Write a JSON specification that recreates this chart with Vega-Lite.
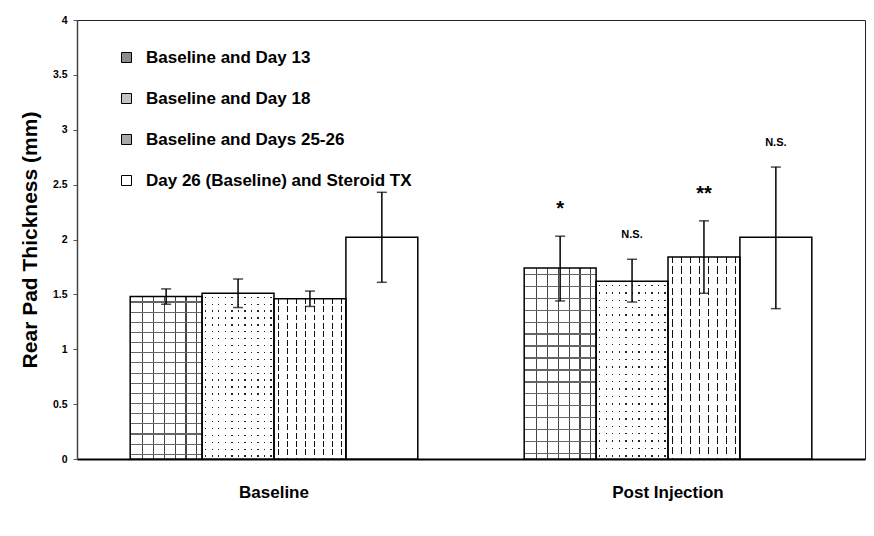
{
  "$schema": "https://vega.github.io/schema/vega-lite/v6.json",
  "width": 788,
  "height": 439,
  "autosize": {"type": "none"},
  "padding": {"left": 77, "top": 20, "right": 9, "bottom": 77},
  "background": "white",
  "config": {
    "font": "Liberation Sans",
    "view": {"stroke": "#222", "strokeWidth": 1},
    "axis": {"labelFont": "Liberation Sans", "titleFont": "Liberation Sans", "labelColor": "black", "titleColor": "black", "grid": false}
  },
  "data": {
    "values": [
      {"group": "Baseline", "series": "Baseline and Day 13", "mean": 1.48, "low": 1.41, "high": 1.55, "sig": null},
      {"group": "Baseline", "series": "Baseline and Day 18", "mean": 1.51, "low": 1.38, "high": 1.64, "sig": null},
      {"group": "Baseline", "series": "Baseline and Days 25-26", "mean": 1.46, "low": 1.39, "high": 1.53, "sig": null},
      {"group": "Baseline", "series": "Day 26 (Baseline) and Steroid TX", "mean": 2.02, "low": 1.61, "high": 2.43, "sig": null},
      {"group": "Post Injection", "series": "Baseline and Day 13", "mean": 1.74, "low": 1.44, "high": 2.03, "sig": "*"},
      {"group": "Post Injection", "series": "Baseline and Day 18", "mean": 1.62, "low": 1.43, "high": 1.82, "sig": "N.S."},
      {"group": "Post Injection", "series": "Baseline and Days 25-26", "mean": 1.84, "low": 1.51, "high": 2.17, "sig": "**"},
      {"group": "Post Injection", "series": "Day 26 (Baseline) and Steroid TX", "mean": 2.02, "low": 1.37, "high": 2.66, "sig": "N.S."}
    ]
  },
  "encoding": {
    "x": {
      "field": "group", "type": "nominal", "sort": ["Baseline", "Post Injection"],
      "scale": {"paddingInner": 0.27, "paddingOuter": 0.135},
      "axis": {"title": null, "labelAngle": 0, "labelFontSize": 17, "labelFontWeight": "bold", "labelPadding": 25, "ticks": false, "domainColor": "black", "domainWidth": 2}
    },
    "xOffset": {
      "field": "series", "type": "nominal",
      "scale": {"domain": ["Baseline and Day 13", "Baseline and Day 18", "Baseline and Days 25-26", "Day 26 (Baseline) and Steroid TX"], "paddingInner": 0, "paddingOuter": 0}
    }
  },
  "layer": [
    {
      "mark": {"type": "bar", "stroke": null},
      "encoding": {
        "y": {
          "field": "mean", "type": "quantitative",
          "scale": {"domain": [0, 4], "nice": false},
          "axis": {"title": "Rear Pad Thickness (mm)", "titleFontSize": 21, "titleFontWeight": "bold", "titlePadding": 12, "values": [0, 0.5, 1, 1.5, 2, 2.5, 3, 3.5, 4], "format": "~g", "labelFontSize": 10.5, "labelFontWeight": "bold", "labelPadding": 6, "tickSize": 4, "tickColor": "#555", "domainColor": "#444", "domainWidth": 1.5}
        },
        "fill": {
          "field": "series", "type": "nominal",
          "scale": {"domain": ["Baseline and Day 13", "Baseline and Day 18", "Baseline and Days 25-26", "Day 26 (Baseline) and Steroid TX"], "range": ["#8c8c8c", "#c4c4c4", "#a8a8a8", "#ffffff"]},
          "legend": {"title": null, "orient": "none", "legendX": 41, "legendY": 29, "symbolType": "square", "symbolSize": 100, "symbolStrokeColor": "black", "symbolStrokeWidth": 1, "labelFontSize": 17, "labelFontWeight": "bold", "labelColor": "black", "labelFont": "Liberation Sans", "labelOffset": 11, "rowPadding": 23, "labelLimit": 500}
        }
      }
    },
    {
      "transform": [{"filter": "datum.series == 'Baseline and Day 13'"}],
      "mark": {"type": "bar", "fill": {"gradient": "linear", "x1": 0, "y1": 0, "x2": 1, "y2": 0, "stops": [
        {"offset": 0, "color": "white"},
        {"offset": 0.167, "color": "white"}, {"offset": 0.167, "color": "#444"}, {"offset": 0.185, "color": "#444"}, {"offset": 0.185, "color": "white"},
        {"offset": 0.317, "color": "white"}, {"offset": 0.317, "color": "#444"}, {"offset": 0.335, "color": "#444"}, {"offset": 0.335, "color": "white"},
        {"offset": 0.467, "color": "white"}, {"offset": 0.467, "color": "#444"}, {"offset": 0.485, "color": "#444"}, {"offset": 0.485, "color": "white"},
        {"offset": 0.617, "color": "white"}, {"offset": 0.617, "color": "#444"}, {"offset": 0.635, "color": "#444"}, {"offset": 0.635, "color": "white"},
        {"offset": 0.767, "color": "white"}, {"offset": 0.767, "color": "#444"}, {"offset": 0.785, "color": "#444"}, {"offset": 0.785, "color": "white"},
        {"offset": 0.917, "color": "white"}, {"offset": 0.917, "color": "#444"}, {"offset": 0.935, "color": "#444"}, {"offset": 0.935, "color": "white"},
        {"offset": 1, "color": "white"}
      ]}},
      "encoding": {"y": {"field": "mean", "type": "quantitative"}}
    },
    {
      "transform": [{"filter": "datum.series == 'Baseline and Day 13'"}],
      "mark": {"type": "bar", "fill": {"gradient": "linear", "x1": 0, "y1": 0, "x2": 0, "y2": 1, "stops": [
        {"offset": 0, "color": "rgba(255,255,255,0)"},
        {"offset": 0.03, "color": "rgba(255,255,255,0)"}, {"offset": 0.03, "color": "#666"}, {"offset": 0.037, "color": "#666"}, {"offset": 0.037, "color": "rgba(255,255,255,0)"},
        {"offset": 0.0925, "color": "rgba(255,255,255,0)"}, {"offset": 0.0925, "color": "#666"}, {"offset": 0.0995, "color": "#666"}, {"offset": 0.0995, "color": "rgba(255,255,255,0)"},
        {"offset": 0.155, "color": "rgba(255,255,255,0)"}, {"offset": 0.155, "color": "#666"}, {"offset": 0.162, "color": "#666"}, {"offset": 0.162, "color": "rgba(255,255,255,0)"},
        {"offset": 0.2175, "color": "rgba(255,255,255,0)"}, {"offset": 0.2175, "color": "#666"}, {"offset": 0.2245, "color": "#666"}, {"offset": 0.2245, "color": "rgba(255,255,255,0)"},
        {"offset": 0.28, "color": "rgba(255,255,255,0)"}, {"offset": 0.28, "color": "#666"}, {"offset": 0.287, "color": "#666"}, {"offset": 0.287, "color": "rgba(255,255,255,0)"},
        {"offset": 0.3425, "color": "rgba(255,255,255,0)"}, {"offset": 0.3425, "color": "#666"}, {"offset": 0.3495, "color": "#666"}, {"offset": 0.3495, "color": "rgba(255,255,255,0)"},
        {"offset": 0.405, "color": "rgba(255,255,255,0)"}, {"offset": 0.405, "color": "#666"}, {"offset": 0.412, "color": "#666"}, {"offset": 0.412, "color": "rgba(255,255,255,0)"},
        {"offset": 0.4675, "color": "rgba(255,255,255,0)"}, {"offset": 0.4675, "color": "#666"}, {"offset": 0.4745, "color": "#666"}, {"offset": 0.4745, "color": "rgba(255,255,255,0)"},
        {"offset": 0.53, "color": "rgba(255,255,255,0)"}, {"offset": 0.53, "color": "#666"}, {"offset": 0.537, "color": "#666"}, {"offset": 0.537, "color": "rgba(255,255,255,0)"},
        {"offset": 0.5925, "color": "rgba(255,255,255,0)"}, {"offset": 0.5925, "color": "#666"}, {"offset": 0.5995, "color": "#666"}, {"offset": 0.5995, "color": "rgba(255,255,255,0)"},
        {"offset": 0.655, "color": "rgba(255,255,255,0)"}, {"offset": 0.655, "color": "#666"}, {"offset": 0.662, "color": "#666"}, {"offset": 0.662, "color": "rgba(255,255,255,0)"},
        {"offset": 0.7175, "color": "rgba(255,255,255,0)"}, {"offset": 0.7175, "color": "#666"}, {"offset": 0.7245, "color": "#666"}, {"offset": 0.7245, "color": "rgba(255,255,255,0)"},
        {"offset": 0.78, "color": "rgba(255,255,255,0)"}, {"offset": 0.78, "color": "#666"}, {"offset": 0.787, "color": "#666"}, {"offset": 0.787, "color": "rgba(255,255,255,0)"},
        {"offset": 0.8425, "color": "rgba(255,255,255,0)"}, {"offset": 0.8425, "color": "#666"}, {"offset": 0.8495, "color": "#666"}, {"offset": 0.8495, "color": "rgba(255,255,255,0)"},
        {"offset": 0.905, "color": "rgba(255,255,255,0)"}, {"offset": 0.905, "color": "#666"}, {"offset": 0.912, "color": "#666"}, {"offset": 0.912, "color": "rgba(255,255,255,0)"},
        {"offset": 0.9675, "color": "rgba(255,255,255,0)"}, {"offset": 0.9675, "color": "#666"}, {"offset": 0.9745, "color": "#666"}, {"offset": 0.9745, "color": "rgba(255,255,255,0)"},
        {"offset": 1, "color": "rgba(255,255,255,0)"}
      ]}},
      "encoding": {"y": {"field": "mean", "type": "quantitative"}}
    },
    {
      "transform": [{"filter": "datum.series == 'Baseline and Day 18'"}],
      "mark": {"type": "bar", "fill": {"gradient": "linear", "x1": 0, "y1": 0, "x2": 1, "y2": 0, "stops": [
        {"offset": 0, "color": "white"},
        {"offset": 0.04, "color": "white"}, {"offset": 0.04, "color": "#222"}, {"offset": 0.06, "color": "#222"}, {"offset": 0.06, "color": "white"},
        {"offset": 0.131, "color": "white"}, {"offset": 0.131, "color": "#222"}, {"offset": 0.151, "color": "#222"}, {"offset": 0.151, "color": "white"},
        {"offset": 0.222, "color": "white"}, {"offset": 0.222, "color": "#222"}, {"offset": 0.242, "color": "#222"}, {"offset": 0.242, "color": "white"},
        {"offset": 0.313, "color": "white"}, {"offset": 0.313, "color": "#222"}, {"offset": 0.333, "color": "#222"}, {"offset": 0.333, "color": "white"},
        {"offset": 0.404, "color": "white"}, {"offset": 0.404, "color": "#222"}, {"offset": 0.424, "color": "#222"}, {"offset": 0.424, "color": "white"},
        {"offset": 0.495, "color": "white"}, {"offset": 0.495, "color": "#222"}, {"offset": 0.515, "color": "#222"}, {"offset": 0.515, "color": "white"},
        {"offset": 0.586, "color": "white"}, {"offset": 0.586, "color": "#222"}, {"offset": 0.606, "color": "#222"}, {"offset": 0.606, "color": "white"},
        {"offset": 0.677, "color": "white"}, {"offset": 0.677, "color": "#222"}, {"offset": 0.697, "color": "#222"}, {"offset": 0.697, "color": "white"},
        {"offset": 0.768, "color": "white"}, {"offset": 0.768, "color": "#222"}, {"offset": 0.788, "color": "#222"}, {"offset": 0.788, "color": "white"},
        {"offset": 0.859, "color": "white"}, {"offset": 0.859, "color": "#222"}, {"offset": 0.879, "color": "#222"}, {"offset": 0.879, "color": "white"},
        {"offset": 0.95, "color": "white"}, {"offset": 0.95, "color": "#222"}, {"offset": 0.97, "color": "#222"}, {"offset": 0.97, "color": "white"},
        {"offset": 1, "color": "white"}
      ]}},
      "encoding": {"y": {"field": "mean", "type": "quantitative"}}
    },
    {
      "transform": [{"filter": "datum.series == 'Baseline and Day 18'"}],
      "mark": {"type": "bar", "fill": {"gradient": "linear", "x1": 0, "y1": 0, "x2": 0, "y2": 1, "stops": [
        {"offset": 0, "color": "white"},
        {"offset": 0.02, "color": "white"}, {"offset": 0.02, "color": "rgba(255,255,255,0)"}, {"offset": 0.028, "color": "rgba(255,255,255,0)"}, {"offset": 0.028, "color": "white"},
        {"offset": 0.0617, "color": "white"}, {"offset": 0.0617, "color": "rgba(255,255,255,0)"}, {"offset": 0.0697, "color": "rgba(255,255,255,0)"}, {"offset": 0.0697, "color": "white"},
        {"offset": 0.1033, "color": "white"}, {"offset": 0.1033, "color": "rgba(255,255,255,0)"}, {"offset": 0.1113, "color": "rgba(255,255,255,0)"}, {"offset": 0.1113, "color": "white"},
        {"offset": 0.145, "color": "white"}, {"offset": 0.145, "color": "rgba(255,255,255,0)"}, {"offset": 0.153, "color": "rgba(255,255,255,0)"}, {"offset": 0.153, "color": "white"},
        {"offset": 0.1867, "color": "white"}, {"offset": 0.1867, "color": "rgba(255,255,255,0)"}, {"offset": 0.1947, "color": "rgba(255,255,255,0)"}, {"offset": 0.1947, "color": "white"},
        {"offset": 0.2283, "color": "white"}, {"offset": 0.2283, "color": "rgba(255,255,255,0)"}, {"offset": 0.2363, "color": "rgba(255,255,255,0)"}, {"offset": 0.2363, "color": "white"},
        {"offset": 0.27, "color": "white"}, {"offset": 0.27, "color": "rgba(255,255,255,0)"}, {"offset": 0.278, "color": "rgba(255,255,255,0)"}, {"offset": 0.278, "color": "white"},
        {"offset": 0.3117, "color": "white"}, {"offset": 0.3117, "color": "rgba(255,255,255,0)"}, {"offset": 0.3197, "color": "rgba(255,255,255,0)"}, {"offset": 0.3197, "color": "white"},
        {"offset": 0.3533, "color": "white"}, {"offset": 0.3533, "color": "rgba(255,255,255,0)"}, {"offset": 0.3613, "color": "rgba(255,255,255,0)"}, {"offset": 0.3613, "color": "white"},
        {"offset": 0.395, "color": "white"}, {"offset": 0.395, "color": "rgba(255,255,255,0)"}, {"offset": 0.403, "color": "rgba(255,255,255,0)"}, {"offset": 0.403, "color": "white"},
        {"offset": 0.4367, "color": "white"}, {"offset": 0.4367, "color": "rgba(255,255,255,0)"}, {"offset": 0.4447, "color": "rgba(255,255,255,0)"}, {"offset": 0.4447, "color": "white"},
        {"offset": 0.4783, "color": "white"}, {"offset": 0.4783, "color": "rgba(255,255,255,0)"}, {"offset": 0.4863, "color": "rgba(255,255,255,0)"}, {"offset": 0.4863, "color": "white"},
        {"offset": 0.52, "color": "white"}, {"offset": 0.52, "color": "rgba(255,255,255,0)"}, {"offset": 0.528, "color": "rgba(255,255,255,0)"}, {"offset": 0.528, "color": "white"},
        {"offset": 0.5617, "color": "white"}, {"offset": 0.5617, "color": "rgba(255,255,255,0)"}, {"offset": 0.5697, "color": "rgba(255,255,255,0)"}, {"offset": 0.5697, "color": "white"},
        {"offset": 0.6033, "color": "white"}, {"offset": 0.6033, "color": "rgba(255,255,255,0)"}, {"offset": 0.6113, "color": "rgba(255,255,255,0)"}, {"offset": 0.6113, "color": "white"},
        {"offset": 0.645, "color": "white"}, {"offset": 0.645, "color": "rgba(255,255,255,0)"}, {"offset": 0.653, "color": "rgba(255,255,255,0)"}, {"offset": 0.653, "color": "white"},
        {"offset": 0.6867, "color": "white"}, {"offset": 0.6867, "color": "rgba(255,255,255,0)"}, {"offset": 0.6947, "color": "rgba(255,255,255,0)"}, {"offset": 0.6947, "color": "white"},
        {"offset": 0.7283, "color": "white"}, {"offset": 0.7283, "color": "rgba(255,255,255,0)"}, {"offset": 0.7363, "color": "rgba(255,255,255,0)"}, {"offset": 0.7363, "color": "white"},
        {"offset": 0.77, "color": "white"}, {"offset": 0.77, "color": "rgba(255,255,255,0)"}, {"offset": 0.778, "color": "rgba(255,255,255,0)"}, {"offset": 0.778, "color": "white"},
        {"offset": 0.8117, "color": "white"}, {"offset": 0.8117, "color": "rgba(255,255,255,0)"}, {"offset": 0.8197, "color": "rgba(255,255,255,0)"}, {"offset": 0.8197, "color": "white"},
        {"offset": 0.8533, "color": "white"}, {"offset": 0.8533, "color": "rgba(255,255,255,0)"}, {"offset": 0.8613, "color": "rgba(255,255,255,0)"}, {"offset": 0.8613, "color": "white"},
        {"offset": 0.895, "color": "white"}, {"offset": 0.895, "color": "rgba(255,255,255,0)"}, {"offset": 0.903, "color": "rgba(255,255,255,0)"}, {"offset": 0.903, "color": "white"},
        {"offset": 0.9367, "color": "white"}, {"offset": 0.9367, "color": "rgba(255,255,255,0)"}, {"offset": 0.9447, "color": "rgba(255,255,255,0)"}, {"offset": 0.9447, "color": "white"},
        {"offset": 0.9783, "color": "white"}, {"offset": 0.9783, "color": "rgba(255,255,255,0)"}, {"offset": 0.9863, "color": "rgba(255,255,255,0)"}, {"offset": 0.9863, "color": "white"},
        {"offset": 1, "color": "white"}
      ]}},
      "encoding": {"y": {"field": "mean", "type": "quantitative"}}
    },
    {
      "transform": [{"filter": "datum.series == 'Baseline and Days 25-26'"}],
      "mark": {"type": "bar", "fill": {"gradient": "linear", "x1": 0, "y1": 0, "x2": 1, "y2": 0, "stops": [
        {"offset": 0, "color": "white"},
        {"offset": 0.05, "color": "white"}, {"offset": 0.05, "color": "#111"}, {"offset": 0.074, "color": "#111"}, {"offset": 0.074, "color": "white"},
        {"offset": 0.175, "color": "white"}, {"offset": 0.175, "color": "#111"}, {"offset": 0.199, "color": "#111"}, {"offset": 0.199, "color": "white"},
        {"offset": 0.3, "color": "white"}, {"offset": 0.3, "color": "#111"}, {"offset": 0.324, "color": "#111"}, {"offset": 0.324, "color": "white"},
        {"offset": 0.425, "color": "white"}, {"offset": 0.425, "color": "#111"}, {"offset": 0.449, "color": "#111"}, {"offset": 0.449, "color": "white"},
        {"offset": 0.55, "color": "white"}, {"offset": 0.55, "color": "#111"}, {"offset": 0.574, "color": "#111"}, {"offset": 0.574, "color": "white"},
        {"offset": 0.675, "color": "white"}, {"offset": 0.675, "color": "#111"}, {"offset": 0.699, "color": "#111"}, {"offset": 0.699, "color": "white"},
        {"offset": 0.8, "color": "white"}, {"offset": 0.8, "color": "#111"}, {"offset": 0.824, "color": "#111"}, {"offset": 0.824, "color": "white"},
        {"offset": 0.925, "color": "white"}, {"offset": 0.925, "color": "#111"}, {"offset": 0.949, "color": "#111"}, {"offset": 0.949, "color": "white"},
        {"offset": 1, "color": "white"}
      ]}},
      "encoding": {"y": {"field": "mean", "type": "quantitative"}}
    },
    {
      "transform": [{"filter": "datum.series == 'Baseline and Days 25-26'"}],
      "mark": {"type": "bar", "fill": {"gradient": "linear", "x1": 0, "y1": 0, "x2": 0, "y2": 1, "stops": [
        {"offset": 0, "color": "rgba(255,255,255,0)"},
        {"offset": 0.03, "color": "rgba(255,255,255,0)"}, {"offset": 0.03, "color": "white"}, {"offset": 0.046, "color": "white"}, {"offset": 0.046, "color": "rgba(255,255,255,0)"},
        {"offset": 0.0826, "color": "rgba(255,255,255,0)"}, {"offset": 0.0826, "color": "white"}, {"offset": 0.0986, "color": "white"}, {"offset": 0.0986, "color": "rgba(255,255,255,0)"},
        {"offset": 0.1353, "color": "rgba(255,255,255,0)"}, {"offset": 0.1353, "color": "white"}, {"offset": 0.1513, "color": "white"}, {"offset": 0.1513, "color": "rgba(255,255,255,0)"},
        {"offset": 0.1879, "color": "rgba(255,255,255,0)"}, {"offset": 0.1879, "color": "white"}, {"offset": 0.2039, "color": "white"}, {"offset": 0.2039, "color": "rgba(255,255,255,0)"},
        {"offset": 0.2405, "color": "rgba(255,255,255,0)"}, {"offset": 0.2405, "color": "white"}, {"offset": 0.2565, "color": "white"}, {"offset": 0.2565, "color": "rgba(255,255,255,0)"},
        {"offset": 0.2932, "color": "rgba(255,255,255,0)"}, {"offset": 0.2932, "color": "white"}, {"offset": 0.3092, "color": "white"}, {"offset": 0.3092, "color": "rgba(255,255,255,0)"},
        {"offset": 0.3458, "color": "rgba(255,255,255,0)"}, {"offset": 0.3458, "color": "white"}, {"offset": 0.3618, "color": "white"}, {"offset": 0.3618, "color": "rgba(255,255,255,0)"},
        {"offset": 0.3984, "color": "rgba(255,255,255,0)"}, {"offset": 0.3984, "color": "white"}, {"offset": 0.4144, "color": "white"}, {"offset": 0.4144, "color": "rgba(255,255,255,0)"},
        {"offset": 0.4511, "color": "rgba(255,255,255,0)"}, {"offset": 0.4511, "color": "white"}, {"offset": 0.4671, "color": "white"}, {"offset": 0.4671, "color": "rgba(255,255,255,0)"},
        {"offset": 0.5037, "color": "rgba(255,255,255,0)"}, {"offset": 0.5037, "color": "white"}, {"offset": 0.5197, "color": "white"}, {"offset": 0.5197, "color": "rgba(255,255,255,0)"},
        {"offset": 0.5563, "color": "rgba(255,255,255,0)"}, {"offset": 0.5563, "color": "white"}, {"offset": 0.5723, "color": "white"}, {"offset": 0.5723, "color": "rgba(255,255,255,0)"},
        {"offset": 0.6089, "color": "rgba(255,255,255,0)"}, {"offset": 0.6089, "color": "white"}, {"offset": 0.6249, "color": "white"}, {"offset": 0.6249, "color": "rgba(255,255,255,0)"},
        {"offset": 0.6616, "color": "rgba(255,255,255,0)"}, {"offset": 0.6616, "color": "white"}, {"offset": 0.6776, "color": "white"}, {"offset": 0.6776, "color": "rgba(255,255,255,0)"},
        {"offset": 0.7142, "color": "rgba(255,255,255,0)"}, {"offset": 0.7142, "color": "white"}, {"offset": 0.7302, "color": "white"}, {"offset": 0.7302, "color": "rgba(255,255,255,0)"},
        {"offset": 0.7668, "color": "rgba(255,255,255,0)"}, {"offset": 0.7668, "color": "white"}, {"offset": 0.7828, "color": "white"}, {"offset": 0.7828, "color": "rgba(255,255,255,0)"},
        {"offset": 0.8195, "color": "rgba(255,255,255,0)"}, {"offset": 0.8195, "color": "white"}, {"offset": 0.8355, "color": "white"}, {"offset": 0.8355, "color": "rgba(255,255,255,0)"},
        {"offset": 0.8721, "color": "rgba(255,255,255,0)"}, {"offset": 0.8721, "color": "white"}, {"offset": 0.8881, "color": "white"}, {"offset": 0.8881, "color": "rgba(255,255,255,0)"},
        {"offset": 0.9247, "color": "rgba(255,255,255,0)"}, {"offset": 0.9247, "color": "white"}, {"offset": 0.9407, "color": "white"}, {"offset": 0.9407, "color": "rgba(255,255,255,0)"},
        {"offset": 0.9774, "color": "rgba(255,255,255,0)"}, {"offset": 0.9774, "color": "white"}, {"offset": 0.9934, "color": "white"}, {"offset": 0.9934, "color": "rgba(255,255,255,0)"},
        {"offset": 1, "color": "rgba(255,255,255,0)"}
      ]}},
      "encoding": {"y": {"field": "mean", "type": "quantitative"}}
    },
    {
      "mark": {"type": "bar", "filled": false, "stroke": "black", "strokeWidth": 1.5},
      "encoding": {"y": {"field": "mean", "type": "quantitative"}}
    },
    {
      "mark": {"type": "rule", "color": "black", "strokeWidth": 1.5},
      "encoding": {"y": {"field": "low", "type": "quantitative"}, "y2": {"field": "high"}}
    },
    {
      "mark": {"type": "tick", "color": "black", "thickness": 1.5, "size": 10},
      "encoding": {"y": {"field": "low", "type": "quantitative"}}
    },
    {
      "mark": {"type": "tick", "color": "black", "thickness": 1.5, "size": 10},
      "encoding": {"y": {"field": "high", "type": "quantitative"}}
    },
    {
      "transform": [{"filter": "datum.sig == 'N.S.'"}],
      "mark": {"type": "text", "fontSize": 11, "fontWeight": "bold", "color": "black", "baseline": "alphabetic", "dy": -21},
      "encoding": {"y": {"field": "high", "type": "quantitative"}, "text": {"field": "sig"}}
    },
    {
      "transform": [{"filter": "datum.sig == '*' || datum.sig == '**'"}],
      "mark": {"type": "text", "fontSize": 20, "fontWeight": "bold", "color": "black", "baseline": "alphabetic", "dy": -21},
      "encoding": {"y": {"field": "high", "type": "quantitative"}, "text": {"field": "sig"}}
    }
  ]
}
